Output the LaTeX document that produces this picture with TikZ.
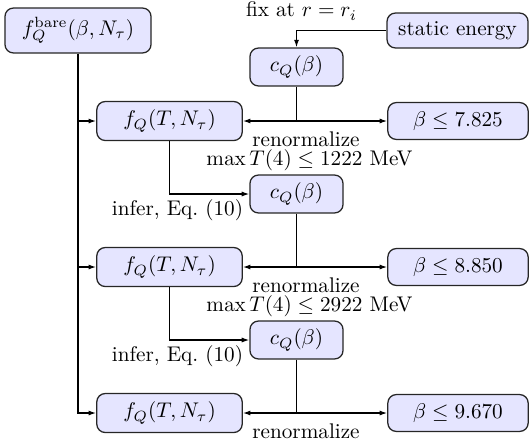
\documentclass[tikz,border=0pt]{standalone}
\usetikzlibrary{arrows.meta}
\begin{document}
\begin{tikzpicture}[x=0.4717pt,y=-0.4717pt,
  box/.style={draw=black!85, line width=0.6pt, fill=blue!10, rounded corners=4pt, align=center, inner sep=0pt},
  wbox/.style={box, minimum width=68.6pt, minimum height=18.4pt},
  cbox/.style={box, minimum width=43.9pt, minimum height=17.9pt},
  bbox/.style={box, minimum width=66.2pt, minimum height=17.4pt},
  lab/.style={inner sep=0pt},
  conn/.style={line width=0.6pt},
  arr/.style={conn, -{Latex[length=3.6pt,width=2.4pt]}}]
\useasboundingbox (0,0) rectangle (532,443);
% nodes
\node[box, minimum width=68.9pt, minimum height=21.2pt] (fbare) at (78,30.5) {$f_Q^{\mathrm{bare}}(\beta,N_\tau)$};
\node[box, minimum width=66.5pt, minimum height=16.5pt] (static) at (457.5,30.5) {static energy};
\node[cbox] (cQ1) at (296.5,67) {$c_Q(\beta)$};
\node[wbox] (fQ1) at (169.5,121) {$f_Q(T,N_\tau)$};
\node[bbox] (b1) at (458,121) {$\beta\leq 7.825$};
\node[cbox] (cQ2) at (296.5,194) {$c_Q(\beta)$};
\node[wbox] (fQ2) at (169.5,267) {$f_Q(T,N_\tau)$};
\node[bbox] (b2) at (458,267) {$\beta\leq 8.850$};
\node[cbox] (cQ3) at (296.5,340) {$c_Q(\beta)$};
\node[wbox] (fQ3) at (169.5,413) {$f_Q(T,N_\tau)$};
\node[bbox] (b3) at (458,413) {$\beta\leq 9.670$};
% labels
\node[lab] (lfix) at (301.5,11) {fix at $r=r_i$};
\node[lab] (lren1) at (306,139) {renormalize};
\node[lab] (lmax1) at (309.5,160) {$\max T(4)\leq 1222$ MeV};
\node[lab] (linf1) at (177.5,210) {infer, Eq.~(10)};
\node[lab] (lren2) at (306,285) {renormalize};
\node[lab] (lmax2) at (309.5,306) {$\max T(4)\leq 2922$ MeV};
\node[lab] (linf2) at (177.5,356) {infer, Eq.~(10)};
\node[lab] (lren3) at (306,431) {renormalize};
% connectors
\draw[arr] (fbare.south) |- (fQ3.west);
\draw[arr] (fbare.south |- fQ1.west) -- (fQ1.west);
\draw[arr] (fbare.south |- fQ2.west) -- (fQ2.west);
\draw[arr] (static.west) -| (cQ1.north);
\coordinate (j1) at (cQ1.south |- fQ1.east);
\coordinate (j2) at (cQ2.south |- fQ2.east);
\coordinate (j3) at (cQ3.south |- fQ3.east);
\draw[conn] (cQ1.south) -- (j1);
\draw[arr] (j1) -- (fQ1.east);
\draw[arr] (j1) -- (b1.west);
\draw[conn] (cQ2.south) -- (j2);
\draw[arr] (j2) -- (fQ2.east);
\draw[arr] (j2) -- (b2.west);
\draw[conn] (cQ3.south) -- (j3);
\draw[arr] (j3) -- (fQ3.east);
\draw[arr] (j3) -- (b3.west);
\draw[arr] (fQ1.south) |- (cQ2.west);
\draw[arr] (fQ2.south) |- (cQ3.west);
\end{tikzpicture}
\end{document}
